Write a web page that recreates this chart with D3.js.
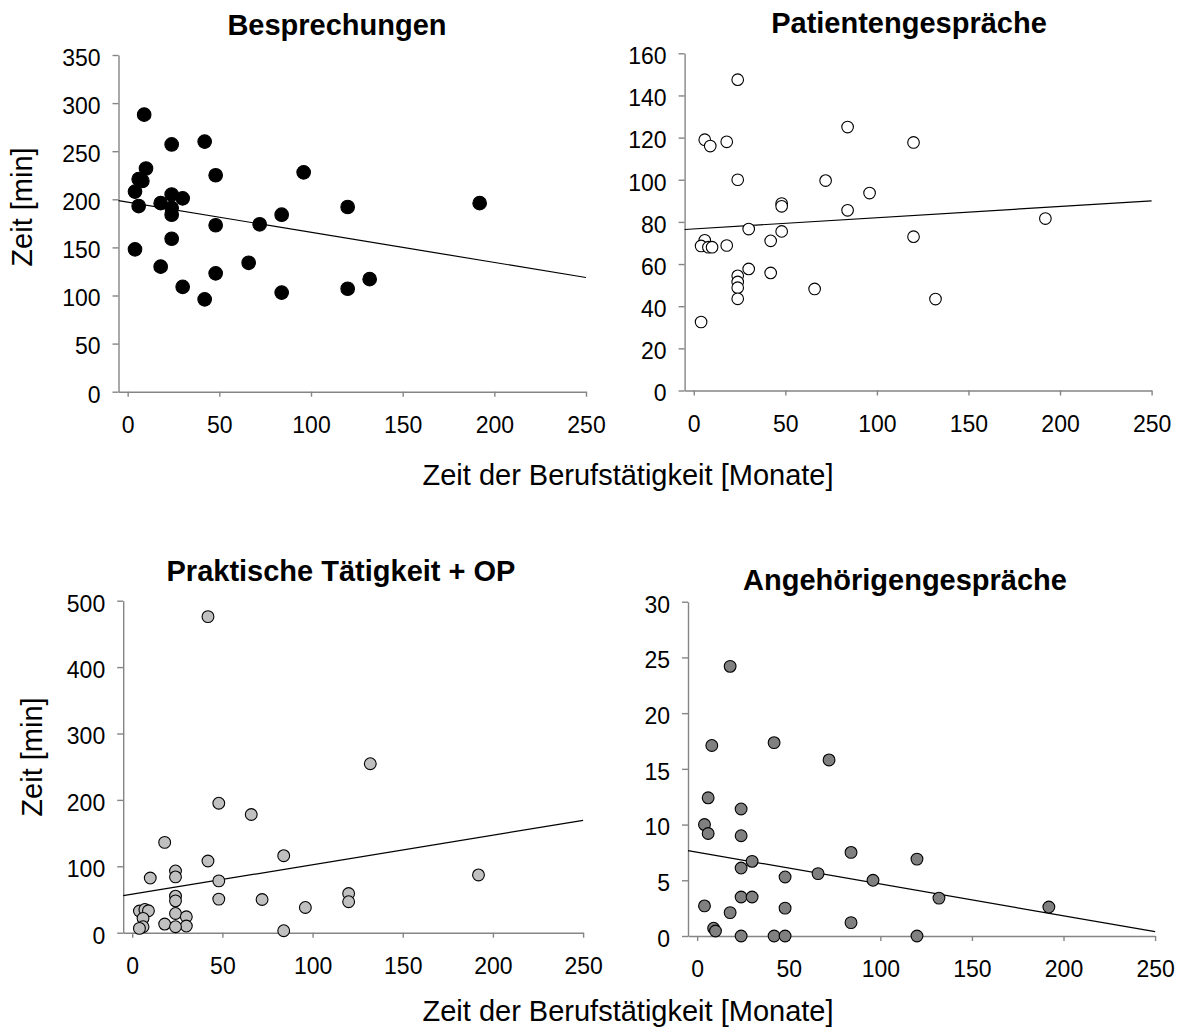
<!DOCTYPE html>
<html>
<head>
<meta charset="utf-8">
<script src="https://cdn.jsdelivr.net/npm/d3@7"></script>
<style>
  body { margin: 0; background: #fff; }
  svg { display: block; }
  text { font-family: "Liberation Sans", Arial, sans-serif; fill: #000; }
</style>
</head>
<body>
<svg id="chart" width="1179" height="1030"></svg>
<script>
  // shared x axis (Zeit der Berufstätigkeit, Monate)
  var xTicks = [0, 50, 100, 150, 200, 250];
  var xLabel = "Zeit der Berufstätigkeit [Monate]";
  var yLabel = "Zeit [min]";

  // Besprechungen
  var bespX = [9, 24, 42, 10, 6, 8, 48, 96, 4, 24, 30, 18, 6, 24, 24, 120, 192, 84, 48, 72, 24, 4, 18, 66, 48, 132, 30, 120, 84, 42];
  var bespY = [288, 257, 260, 232, 221, 219, 225, 228, 208, 205, 201, 196, 193, 191, 184, 192, 196, 184, 173, 174, 159, 148, 130, 134, 123, 117, 109, 107, 103, 96];
  var bespTrend = [[-5, 198.6], [250, 118.7]];
  var bespTicks = [0, 50, 100, 150, 200, 250, 300, 350];

  // Patientengespräche
  var patX = [24, 6, 9, 18, 24, 84, 120, 72, 96, 48, 48, 84, 192, 30, 48, 120, 6, 42, 4, 8, 10, 18, 30, 42, 24, 24, 24, 66, 24, 132, 4];
  var patY = [147.5, 119, 116, 118, 100, 125, 117.7, 99.6, 93.7, 88.7, 87.4, 85.5, 81.6, 76.6, 75.5, 73, 71.3, 71, 68.6, 68, 68, 68.8, 57.7, 55.8, 54.4, 51.5, 48.8, 48.2, 43.5, 43.4, 32.5];
  var patTrend = [[-5, 76.4], [250, 90.0]];
  var patTicks = [0, 20, 40, 60, 80, 100, 120, 140, 160];

  // Praktische Tätigkeit + OP
  var prakX = [42, 132, 48, 66, 18, 42, 84, 192, 10, 24, 24, 48, 24, 24, 48, 72, 120, 120, 96, 4, 7, 9, 6, 6, 4, 18, 24, 30, 30, 24, 84];
  var prakY = [476, 254.5, 195, 178, 136, 108, 116, 87, 82.3, 93, 84, 78, 55, 48, 50.6, 50, 59, 46.7, 38, 32.6, 35, 33, 21.6, 9, 6.5, 13, 29, 24, 10, 9, 3];
  var prakTrend = [[-5, 55.7], [250, 169.2]];
  var prakTicks = [0, 100, 200, 300, 400, 500];

  // Angehörigengespräche
  var angX = [18, 8, 42, 72, 6, 24, 4, 6, 24, 84, 120, 30, 24, 66, 48, 96, 24, 30, 132, 4, 48, 192, 18, 84, 9, 10, 24, 42, 48, 120];
  var angY = [24.2, 17.1, 17.35, 15.8, 12.4, 11.4, 10, 9.2, 9, 7.5, 6.9, 6.7, 6.1, 5.6, 5.3, 5, 3.5, 3.5, 3.4, 2.7, 2.5, 2.6, 2.1, 1.2, 0.7, 0.45, 0, 0, 0, 0];
  var angTrend = [[-5, 7.66], [250, 0.39]];
  var angTicks = [0, 5, 10, 15, 20, 25, 30];

  var svg = d3.select("#chart");
  var axisColor = "#858585";

  var panels = [
    {title: "Besprechungen", xs: bespX, ys: bespY, trend: bespTrend, ticks: bespTicks,
     left: 118.5, right: 586, top: 55, bottom: 391.7, titleX: 337, titleY: 35,
     yLabelX: 32, yLabelY: 207, fill: "#000", r: 6.8},
    {title: "Patientengespräche", xs: patX, ys: patY, trend: patTrend, ticks: patTicks,
     left: 684.6, right: 1151.6, top: 53.3, bottom: 390.5, titleX: 909, titleY: 33,
     fill: "#fff", r: 5.8},
    {title: "Praktische Tätigkeit + OP", xs: prakX, ys: prakY, trend: prakTrend, ticks: prakTicks,
     left: 123.2, right: 583.1, top: 600.7, bottom: 932.7, titleX: 341, titleY: 581,
     yLabelX: 42, yLabelY: 757, fill: "#c0c0c0", r: 5.9},
    {title: "Angehörigengespräche", xs: angX, ys: angY, trend: angTrend, ticks: angTicks,
     left: 688, right: 1155.1, top: 601.7, bottom: 936, titleX: 905, titleY: 590,
     fill: "#808080", r: 5.9}
  ];

  panels.forEach(function(p) {
    var x = d3.scaleLinear().domain([-5, 250]).range([p.left, p.right]);
    var y = d3.scaleLinear().domain([0, d3.max(p.ticks)]).range([p.bottom, p.top]);
    var g = svg.append("g");

    var xa = g.append("g")
        .attr("transform", "translate(0," + p.bottom + ")")
        .call(d3.axisBottom(x).tickValues(xTicks).tickSize(5).tickSizeOuter(0).tickPadding(20));
    var ya = g.append("g")
        .attr("transform", "translate(" + p.left + ",0)")
        .call(d3.axisLeft(y).tickValues(p.ticks).tickSize(6).tickSizeOuter(0).tickPadding(12));
    ya.selectAll(".tick text").attr("dy", "0.45em");

    [xa, ya].forEach(function(a) {
      a.attr("font-size", null).attr("font-family", null);
      a.selectAll("path, line").attr("stroke", axisColor).attr("stroke-width", 1.4);
      a.selectAll("text").style("font-size", "23px").attr("fill", "#000");
    });

    g.append("path")
        .datum(p.trend)
        .attr("fill", "none")
        .attr("stroke", "#000")
        .attr("stroke-width", 1.2)
        .attr("d", d3.line().x(function(d) { return x(d[0]); }).y(function(d) { return y(d[1]); }));

    g.selectAll("circle").data(p.xs)
      .enter().append("circle")
        .attr("cx", function(d) { return x(d); })
        .attr("cy", function(d, i) { return y(p.ys[i]); })
        .attr("r", p.r)
        .attr("fill", p.fill)
        .attr("stroke", "#000")
        .attr("stroke-width", 1.1);

    g.append("text")
        .attr("x", p.titleX).attr("y", p.titleY)
        .attr("text-anchor", "middle")
        .style("font-size", "29px").style("font-weight", "bold")
        .text(p.title);

    if (p.yLabelX) {
      g.append("text")
          .attr("transform", "translate(" + p.yLabelX + "," + p.yLabelY + ") rotate(-90)")
          .attr("text-anchor", "middle")
          .style("font-size", "29px")
          .text(yLabel);
    }
  });

  // gemeinsame x-Achsenbeschriftung
  [485, 1021].forEach(function(yy) {
    svg.append("text")
        .attr("x", 628).attr("y", yy)
        .attr("text-anchor", "middle")
        .style("font-size", "29px")
        .text(xLabel);
  });
</script>
</body>
</html>
